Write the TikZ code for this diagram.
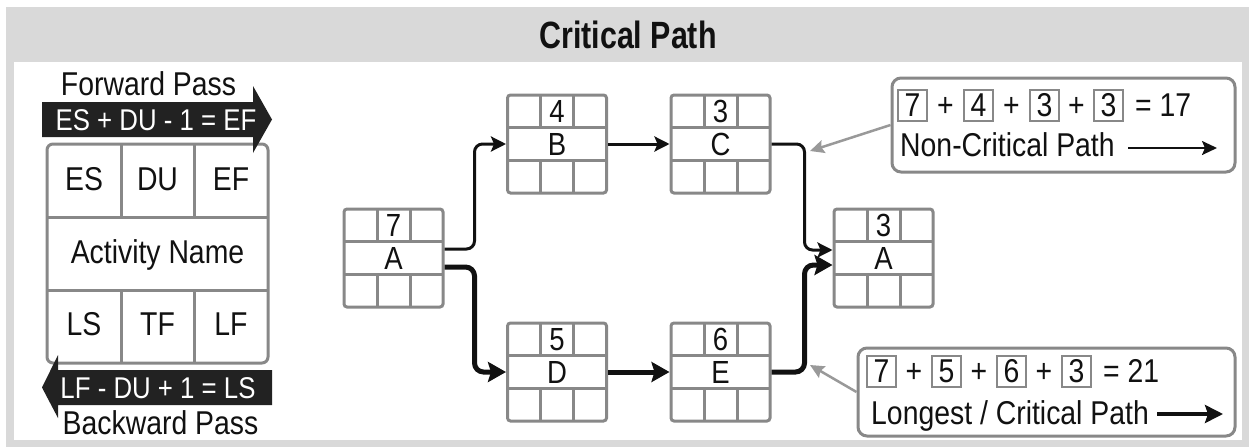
\documentclass[tikz,border=0pt]{standalone}
\usepackage{fontspec}
\setmainfont{Liberation Sans}[FakeStretch=0.86]
\newfontfamily{\cpHeadFamily}{Liberation Sans}[FakeStretch=0.8]
\usetikzlibrary{arrows.meta,calc}

\definecolor{band}{HTML}{D9D9D9}
\definecolor{gridgray}{HTML}{888888}
\definecolor{ink}{HTML}{111111}
\definecolor{pointergray}{HTML}{999999}
\definecolor{barfill}{HTML}{222222}

\newcommand{\cpTitle}{\cpHeadFamily\fontsize{38}{44}\selectfont\bfseries}
\newcommand{\cpBody}{\fontsize{33}{38}\selectfont}
\newcommand{\cpRule}{\fontsize{30}{35}\selectfont}
\newcommand{\cpNode}{\fontsize{32}{36}\selectfont}

% one activity box: name, x, y, duration, label
\newcommand{\actnode}[5]{%
  \node[actbox] (#1) at (#2,#3) {};
  \begin{scope}[shift={(#1.center)}]
    \draw[gridline] (-49.5,-16.3) -- (49.5,-16.3) (-49.5,16.3) -- (49.5,16.3)
      (-16.5,-49) -- (-16.5,-16.3) (16.5,-49) -- (16.5,-16.3)
      (-16.5,16.3) -- (-16.5,49) (16.5,16.3) -- (16.5,49);
    \node[nodetxt] (#1-du) at (0,-32.7) {#4};
    \node[nodetxt] (#1-nm) at (0,0) {#5};
  \end{scope}}

\tikzset{
  gridline/.style={draw=gridgray, line width=3pt},
  lbl/.style={font=\cpBody, text=ink, inner sep=0pt, text height=23.6pt, text depth=0pt},
  rulelbl/.style={font=\cpRule, text=white, inner sep=0pt, text height=21.5pt, text depth=0pt},
  nodetxt/.style={font=\cpNode, text=ink, inner sep=0pt, text height=22.9pt, text depth=0pt},
  actbox/.style={draw=gridgray, line width=3pt, rounded corners=3pt,
    minimum width=99pt, minimum height=98pt, inner sep=0pt},
  legendbox/.style={draw=gridgray, line width=3pt, rounded corners=6pt,
    minimum width=221pt, minimum height=219pt, inner sep=0pt},
  callout/.style={draw=gridgray, line width=3pt, rounded corners=9pt, inner sep=0pt, fill=white},
  numbox/.style={draw=gridgray, line width=2pt, minimum width=29pt, minimum height=31pt,
    inner sep=0pt, font=\cpBody, text=ink, text height=23.6pt, text depth=0pt},
  flow/.style={draw=ink, line width=3pt, rounded corners=8pt,
    -{Stealth[length=15pt,width=15pt,inset=3pt]}},
  crit/.style={draw=ink, line width=5pt, rounded corners=9pt,
    -{Stealth[length=18pt,width=20pt,inset=3pt]}},
  pointer/.style={draw=pointergray, line width=2.5pt,
    -{Stealth[length=14pt,width=13pt,inset=2pt]}},
}

\begin{document}
\begin{tikzpicture}[x=1pt,y=-1pt]
\useasboundingbox (0,0) rectangle (1249,447);

% frame and title band
\fill[band] (6,7) rectangle (1249,447);
\fill[white] (14,62) rectangle (1242,440);
\node[font=\cpTitle, text=ink, inner sep=0pt] (title) at (628,34.5) {Critical Path};

% ---- legend: node layout with forward / backward pass rules ----
\node[lbl] (fwdlabel) at (148.5,84) {Forward Pass};

\node[legendbox] (legend) at (157.5,253.5) {};
\draw[gridline] (47,217) -- (268,217) (47,290) -- (268,290)
  (121,144) -- (121,217) (194,144) -- (194,217)
  (121,290) -- (121,363) (194,290) -- (194,363);
\node[lbl] (lgES) at (84,179) {ES};
\node[lbl] (lgDU) at (157.5,179) {DU};
\node[lbl] (lgEF) at (231,179) {EF};
\node[lbl] (lgName) at (157.5,252) {Activity Name};
\node[lbl] (lgLS) at (84,324) {LS};
\node[lbl] (lgTF) at (157.5,324) {TF};
\node[lbl] (lgLF) at (231,324) {LF};

\fill[barfill] (42,102) -- (253,102) -- (253,86) -- (272,119.5) -- (253,153)
  -- (253,137) -- (42,137) -- cycle;
\node[rulelbl] (fwdrule) at (156,119.5) {ES + DU - 1 = EF};

\fill[barfill] (272,370) -- (58,370) -- (58,355) -- (42,387.5) -- (58,418)
  -- (58,405) -- (272,405) -- cycle;
\node[rulelbl] (bwdrule) at (158,387.5) {LF - DU + 1 = LS};
\node[lbl] (bwdlabel) at (160.5,423) {Backward Pass};

% ---- activity network ----
\actnode{A1}{393.5}{258}{7}{A}
\actnode{B}{557}{144}{4}{B}
\actnode{C}{720.5}{144}{3}{C}
\actnode{D}{557}{372}{5}{D}
\actnode{E}{720.5}{372}{6}{E}
\actnode{A2}{883.5}{258}{3}{A}

\draw[flow] ([yshift=9pt]A1.east) -- ++(30,0) |- (B.west);
\draw[crit] ([yshift=-9pt]A1.east) -- ++(30,0) |- (D.west);
\draw[flow] (B.east) -- (C.west);
\draw[crit] (D.east) -- (E.west);
\draw[flow] (C.east) -- ++(33,0) |- ([yshift=8pt]A2.west);
\draw[crit] (E.east) -- ++(33,0) |- ([yshift=-7pt]A2.west);

% ---- path totals ----
\node[callout, minimum width=343pt, minimum height=94pt] (ncbox) at (1063.5,125) {};
\node[callout, minimum width=377pt, minimum height=88pt] (cpbox) at (1046.5,392) {};

\coordinate (ncTip) at (810,151);
\coordinate (cpTip) at (810,365);
\draw[pointer] (ncbox.west) -- (ncTip);
\draw[pointer] (cpbox.west) -- (cpTip);

% non-critical path: 7 + 4 + 3 + 3 = 17
\node[numbox] (nc1) at (912.5,105) {7};
\node[lbl] (ncp1) at (945.5,105) {+};
\node[numbox] (nc2) at (978.5,105) {4};
\node[lbl] (ncp2) at (1011.5,105) {+};
\node[numbox] (nc3) at (1044.5,105) {3};
\node[lbl] (ncp3) at (1076.5,105) {+};
\node[numbox] (nc4) at (1108.5,105) {3};
\node[lbl, anchor=west] (ncsum) at (1135,105) {= 17};
\node[lbl, anchor=west] (nctext) at (900,145) {Non-Critical Path};
\coordinate (ncArrS) at (1128,148);
\coordinate (ncArrE) at (1217,148);
\draw[draw=ink, line width=2.2pt, -{Stealth[length=15pt,width=14pt,inset=3pt]}] (ncArrS) -- (ncArrE);

% critical path: 7 + 5 + 6 + 3 = 21
\node[numbox] (cp1) at (881.5,371) {7};
\node[lbl] (cpp1) at (914,371) {+};
\node[numbox] (cp2) at (946.5,371) {5};
\node[lbl] (cpp2) at (979,371) {+};
\node[numbox] (cp3) at (1011.5,371) {6};
\node[lbl] (cpp3) at (1044,371) {+};
\node[numbox] (cp4) at (1076.5,371) {3};
\node[lbl, anchor=west] (cpsum) at (1103,371) {= 21};
\node[lbl, anchor=west] (cptext) at (871,413) {Longest / Critical Path};
\coordinate (cpArrS) at (1157,414);
\coordinate (cpArrE) at (1223,414);
\draw[draw=ink, line width=3.5pt, -{Stealth[length=18pt,width=18pt,inset=3pt]}] (cpArrS) -- (cpArrE);

\end{tikzpicture}
\end{document}
